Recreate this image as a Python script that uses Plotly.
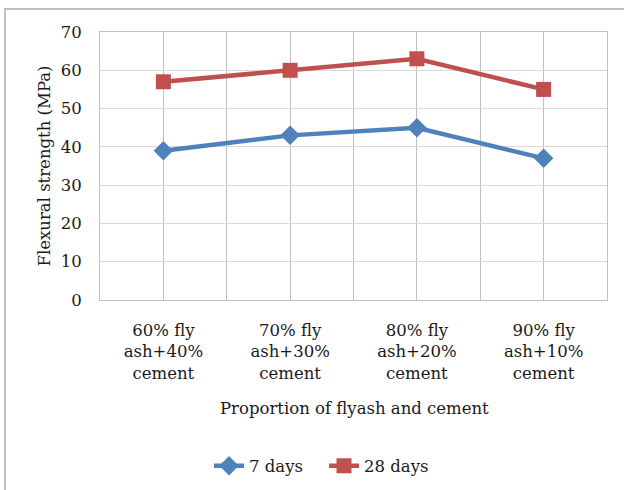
import plotly.graph_objects as go

categories = ["60% fly<br>ash+40%<br>cement", "70% fly<br>ash+30%<br>cement",
              "80% fly<br>ash+20%<br>cement", "90% fly<br>ash+10%<br>cement"]
days7 = [39, 43, 45, 37]
days28 = [57, 60, 63, 55]
y_ticks = [0, 10, 20, 30, 40, 50, 60, 70]

FONT = "DejaVu Serif"
FS = 16.5
TXT = "#1a1a1a"
W, H = 624, 490
L, R, T, B = 100, 17, 32, 190
pw, ph = W - L - R, H - T - B

xs = list(range(len(categories)))

fig = go.Figure()
fig.add_trace(go.Scatter(x=xs, y=days7, name="7 days", mode="lines+markers",
                         line=dict(color="#4f81bd", width=4.5),
                         marker=dict(symbol="diamond", size=15, color="#4f81bd")))
fig.add_trace(go.Scatter(x=xs, y=days28, name="28 days", mode="lines+markers",
                         line=dict(color="#c0504d", width=4.5),
                         marker=dict(symbol="square", size=15, color="#c0504d")))

def px_x(p):
    return (p - L) / pw

def px_y(p):
    return (H - B - p) / ph

fig.update_layout(
    width=W, height=H,
    margin=dict(l=L, r=R, t=T, b=B, autoexpand=False),
    paper_bgcolor="white", plot_bgcolor="white",
    font=dict(family=FONT, size=FS, color=TXT),
    showlegend=True,
    legend=dict(orientation="h", x=px_x(209), xanchor="left", y=px_y(466), yanchor="middle",
                font=dict(family=FONT, size=FS, color=TXT),
                entrywidth=70, entrywidthmode="pixels", tracegroupgap=0),
    xaxis=dict(range=[-0.5, len(categories) - 0.5], tickmode="array", tickvals=xs,
               ticktext=categories, showgrid=True, gridcolor="#c0c0c0", gridwidth=1,
               minor=dict(tickmode="array", tickvals=[x + 0.5 for x in xs[:-1]],
                          showgrid=True, gridcolor="#c0c0c0", gridwidth=1),
               showline=True, linecolor="#c0c0c0", linewidth=1, mirror=True,
               zeroline=False, ticks="", ticklabelstandoff=15,
               tickfont=dict(family=FONT, size=FS, color=TXT)),
    yaxis=dict(range=[0, 70], tickmode="array", tickvals=y_ticks,
               showgrid=True, gridcolor="#d9d9d9", gridwidth=1,
               showline=True, linecolor="#c0c0c0", linewidth=1, mirror=True,
               zeroline=False, ticks="", ticklabelstandoff=14,
               tickfont=dict(family=FONT, size=FS, color=TXT),
               title=dict(text="Flexural strength (MPa)", standoff=5,
                          font=dict(family=FONT, size=FS, color=TXT))),
    annotations=[dict(text="Proportion of flyash and cement", xref="paper", yref="paper",
                      x=px_x(354), y=px_y(408), xanchor="center", yanchor="middle",
                      showarrow=False, font=dict(family=FONT, size=FS, color=TXT))],
    shapes=[
        dict(type="rect", xref="paper", yref="paper", x0=px_x(5), x1=px_x(660),
             y0=px_y(9), y1=px_y(530), line=dict(color="#bfbfbf", width=2),
             fillcolor="rgba(0,0,0,0)", layer="below"),
    ],
)

fig.write_html("out.html", config={"displayModeBar": False},
               post_script="document.body.style.margin='0';")
